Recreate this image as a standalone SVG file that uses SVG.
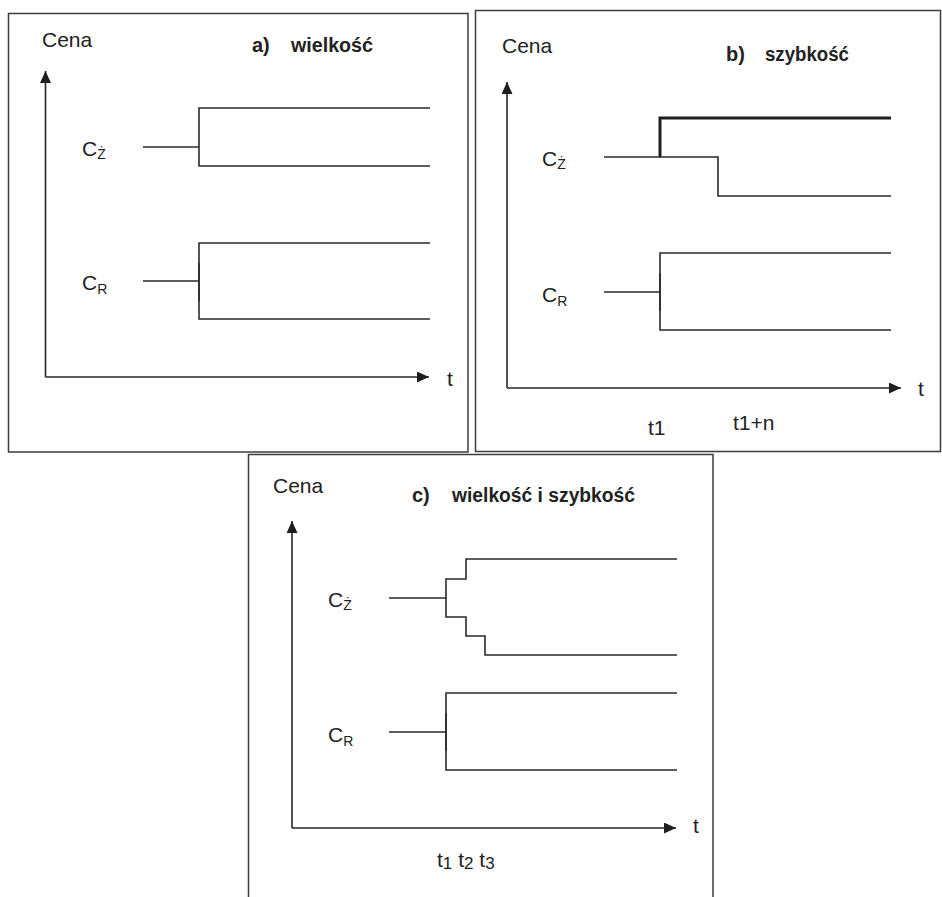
<svg xmlns="http://www.w3.org/2000/svg" width="942" height="897" viewBox="0 0 942 897">
  <style>
    .frame { fill: #ffffff; stroke: #3c3c3c; stroke-width: 1.5; }
    .axis { fill: none; stroke: #262626; stroke-width: 1.6; }
    .ln { fill: none; stroke: #2a2a2a; stroke-width: 1.6; }
    .thick { fill: none; stroke: #1e1e1e; stroke-width: 3; }
    .lbl { font-family: "Liberation Sans", Arial, sans-serif; font-size: 21px; fill: #222222; }
    .sub { font-size: 14px; }
    .tsub { font-size: 17px; }
    .title { font-family: "Liberation Sans", Arial, sans-serif; font-weight: bold; font-size: 20px; fill: #222222; }
  </style>
  <defs>
    <marker id="arrow" viewBox="0 0 12 11" refX="12" refY="5.5" markerWidth="12" markerHeight="11" markerUnits="userSpaceOnUse" orient="auto">
      <path d="M0,0 L12,5.5 L0,11 Z" fill="#1e1e1e"/>
    </marker>
  </defs>
  <rect width="942" height="897" fill="#ffffff"/>

  <!-- Panel a: wielkość -->
  <g id="panel-a">
    <rect class="frame" x="8.5" y="13.5" width="459.5" height="438.5"/>
    <text class="lbl" x="42" y="47">Cena</text>
    <text class="title" x="252" y="52">a)</text>
    <text class="title" x="291" y="52" textLength="82" lengthAdjust="spacingAndGlyphs">wielkość</text>
    <text class="lbl" x="447" y="386">t</text>
    <text class="lbl" x="82" y="156">C<tspan class="sub" dy="3">Ż</tspan></text>
    <text class="lbl" x="82" y="290">C<tspan class="sub" dy="4">R</tspan></text>
  </g>
  <g id="connectors-a">
    <line class="axis" x1="45.5" y1="377" x2="45.5" y2="71" marker-end="url(#arrow)"/>
    <line class="axis" x1="45.5" y1="377" x2="429" y2="377" marker-end="url(#arrow)"/>
    <path class="ln" d="M143,147 H199 M430,108 H199 V166 H430"/>
    <path class="ln" d="M143,281 H199 M430,243 H199 V319 H430"/>
    <line class="ln" x1="199" y1="263" x2="199" y2="301" stroke-width="2.4"/>
  </g>

  <!-- Panel b: szybkość -->
  <g id="panel-b">
    <rect class="frame" x="475.5" y="10.5" width="465" height="441"/>
    <text class="lbl" x="502" y="53">Cena</text>
    <text class="title" x="726" y="61">b)</text>
    <text class="title" x="765" y="61" textLength="84" lengthAdjust="spacingAndGlyphs">szybkość</text>
    <text class="lbl" x="918" y="396">t</text>
    <text class="lbl" x="648" y="435">t1</text>
    <text class="lbl" x="733" y="430">t1+n</text>
    <text class="lbl" x="542" y="166">C<tspan class="sub" dy="3">Ż</tspan></text>
    <text class="lbl" x="542" y="302">C<tspan class="sub" dy="4">R</tspan></text>
  </g>
  <g id="connectors-b">
    <line class="axis" x1="507" y1="388" x2="507" y2="82" marker-end="url(#arrow)"/>
    <line class="axis" x1="507" y1="388" x2="901" y2="388" marker-end="url(#arrow)"/>
    <path class="ln" d="M604,157 H718 V196 H891"/>
    <path class="thick" d="M660,157 V118 H891"/>
    <path class="ln" d="M604,292 H660 M891,253 H660 V330 H891"/>
    <line class="ln" x1="660" y1="273" x2="660" y2="311" stroke-width="2.4"/>
  </g>

  <!-- Panel c: wielkość i szybkość -->
  <g id="panel-c">
    <rect class="frame" x="248.5" y="454.5" width="464.5" height="450"/>
    <text class="lbl" x="273" y="493">Cena</text>
    <text class="title" x="412" y="502">c)</text>
    <text class="title" x="452" y="502" textLength="183" lengthAdjust="spacingAndGlyphs">wielkość i szybkość</text>
    <text class="lbl" x="693" y="833">t</text>
    <text class="lbl" x="437" y="867" font-size="22">t<tspan class="tsub" dy="2">1</tspan><tspan dy="-2"> t</tspan><tspan class="tsub" dy="2">2</tspan><tspan dy="-2"> t</tspan><tspan class="tsub" dy="2">3</tspan></text>
    <text class="lbl" x="328" y="607">C<tspan class="sub" dy="3">Ż</tspan></text>
    <text class="lbl" x="328" y="742">C<tspan class="sub" dy="4">R</tspan></text>
  </g>
  <g id="connectors-c">
    <line class="axis" x1="292" y1="828" x2="292" y2="521" marker-end="url(#arrow)"/>
    <line class="axis" x1="292" y1="828" x2="676" y2="828" marker-end="url(#arrow)"/>
    <path class="ln" d="M389,598 H446 M677,559 H466 V579 H446 V617 H466 V636 H485 V655 H677" stroke-width="2"/>
    <path class="ln" d="M389,732 H446 M677,693 H446 V770 H677"/>
    <line class="ln" x1="446" y1="713" x2="446" y2="751" stroke-width="2.4"/>
  </g>
</svg>
